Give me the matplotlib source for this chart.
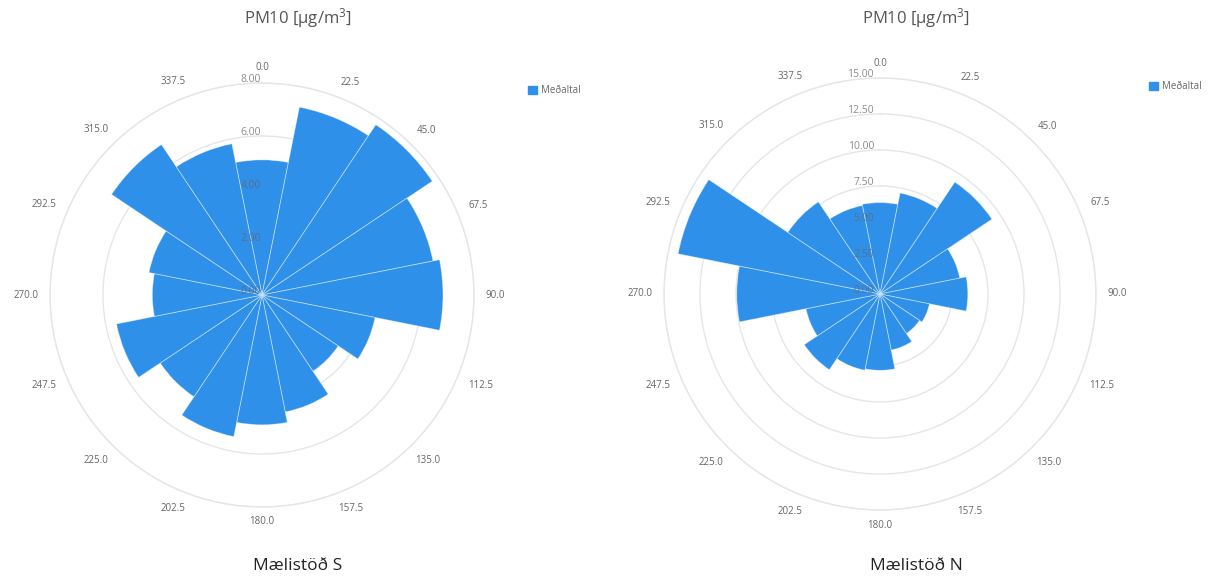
import numpy as np
import matplotlib
matplotlib.use("Agg")
import matplotlib.pyplot as plt
import matplotlib.transforms as mtransforms
from matplotlib.patches import Patch

plt.rcParams['font.family'] = ['Open Sans', 'DejaVu Sans']
plt.rcParams['mathtext.fontset'] = 'custom'
plt.rcParams['mathtext.rm'] = 'Open Sans'
plt.rcParams['mathtext.it'] = 'Open Sans'

# ---------------- data ----------------
directions = [0.0, 22.5, 45.0, 67.5, 90.0, 112.5, 135.0, 157.5,
              180.0, 202.5, 225.0, 247.5, 270.0, 292.5, 315.0, 337.5]
direction_labels = [f"{d:.1f}" for d in directions]

station_s_values = [5.10, 7.23, 7.73, 6.58, 6.83, 4.35, 3.46, 4.50,
                    4.90, 5.45, 4.62, 5.60, 4.14, 4.35, 6.83, 5.82]
station_n_values = [6.35, 7.15, 9.35, 5.65, 6.10, 3.50, 3.30, 3.97,
                    5.30, 5.40, 6.33, 5.24, 9.95, 14.30, 7.70, 6.27]

s_rticks = [0, 2, 4, 6, 8]
s_rlabels = ["0.00", "2.00", "4.00", "6.00", "8.00"]
n_rticks = [0, 2.5, 5, 7.5, 10, 12.5, 15]
n_rlabels = ["0.00", "2.50", "5.00", "7.50", "10.00", "12.50", "15.00"]

chart_title = "PM10 [µg/m$^{3}$]"
series_name = "Meðaltal"
station_names = ["Mælistöð S", "Mælistöð N"]

# ---------------- style ----------------
W, H = 1208, 576
BAR = "#2f90ea"
GRID = "#e6e6e6"
LABEL = "#666666"

fig = plt.figure(figsize=(W / 100, H / 100), dpi=100)


def polar_panel(cx, cy, R, values, rticks, rlabels, title_x, name, legend_xy, rlab_dx):
    ax = fig.add_axes([(cx - R) / W, (H - cy - R) / H, 2 * R / W, 2 * R / H],
                      projection='polar')
    ax.set_theta_zero_location('N')
    ax.set_theta_direction(-1)
    theta = np.radians(directions)
    ax.bar(theta, values, width=np.radians(22.5), align='center',
           color=BAR, edgecolor=(1, 1, 1, 0.45), linewidth=0.6, zorder=2)
    ax.set_ylim(0, rticks[-1])
    ax.set_yticks(rticks)
    ax.set_yticklabels([])
    ax.yaxis.grid(True, color=GRID, linewidth=1.0, zorder=0)
    ax.xaxis.grid(False)
    ax.spines['polar'].set_color(GRID)
    ax.spines['polar'].set_linewidth(1.0)
    ax.set_xticks(theta)
    ax.set_xticklabels([])
    ax.tick_params(axis='x', length=0)
    ax.set_axisbelow(True)
    # direction labels outside the outer ring
    for t, lab in zip(theta, direction_labels):
        half_w = 0.5 * (5.4 * (len(lab) - 1) + 2.6)
        half_h = 3.0
        d = 12.0 + abs(np.sin(t)) * half_w + abs(np.cos(t)) * half_h
        tr = mtransforms.offset_copy(ax.transData, fig=fig,
                                     x=d * np.sin(t), y=d * np.cos(t), units='dots')
        ax.text(t, rticks[-1], lab, transform=tr, ha='center', va='center',
                fontsize=7, color=LABEL, clip_on=False)
    off = mtransforms.offset_copy(ax.transData, fig=fig, x=rlab_dx, y=-2, units='dots')
    for r, lab in zip(rticks, rlabels):
        ax.text(0, r, lab, transform=off, ha='right', va='bottom',
                fontsize=7.5, color=LABEL, alpha=0.75, zorder=3)
    fig.text(title_x / W, 1 - 18 / H, chart_title, ha='center', va='center',
             fontsize=12, color='#555555')
    fig.text(title_x / W, 1 - 566 / H, name, ha='center', va='center',
             fontsize=12.5, color='#222222')
    fig.legend(handles=[Patch(facecolor=BAR, edgecolor=BAR)], labels=[series_name],
               loc='upper left', bbox_to_anchor=(legend_xy[0] / W, 1 - legend_xy[1] / H),
               frameon=False, fontsize=7, handlelength=0.9, handleheight=0.9,
               handletextpad=0.4, borderpad=0, borderaxespad=0, labelcolor=LABEL)
    return ax


polar_panel(262, 295, 212, station_s_values, s_rticks, s_rlabels, 298,
            station_names[0], (528, 85), -1)
polar_panel(880, 294, 216, station_n_values, n_rticks, n_rlabels, 916,
            station_names[1], (1149, 81), -6)

fig.savefig("out.png", dpi=100)
